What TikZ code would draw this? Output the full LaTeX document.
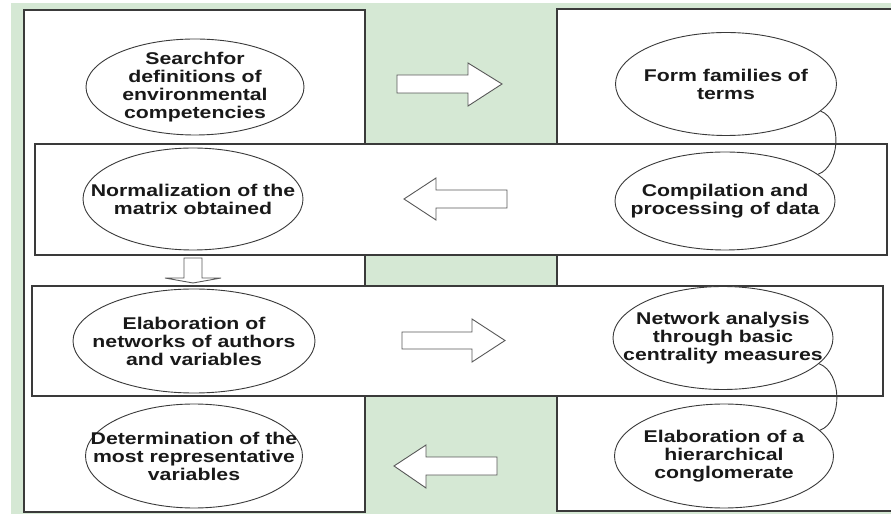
\documentclass[tikz,border=0pt]{standalone}
\usepackage{fontspec}
\newfontfamily\lblfont[FakeStretch=1.25]{Liberation Sans Bold}
\usetikzlibrary{shapes.geometric}
\definecolor{bggreen}{HTML}{D5E8D4}
\definecolor{linegray}{HTML}{3A3A3A}
\tikzset{
  panel/.style={draw=linegray, line width=1.3pt, fill=white},
  ell/.style={draw=linegray, line width=0.9pt, fill=white, ellipse, inner sep=0pt},
  txt/.style={font=\lblfont\fontsize{17}{18}\selectfont, align=center, inner sep=0pt, text=black!90},
  blockarrow/.style={draw=linegray!85, line width=0.9pt, fill=white, line join=miter},
  link/.style={draw=linegray, line width=0.9pt},
}
\begin{document}
\begin{tikzpicture}[x=1pt,y=1pt]
\useasboundingbox (0,0) rectangle (891,514);
\begin{scope}
\clip (0,0) rectangle (891,514);
% background
\fill[bggreen] (11,0) rectangle (891,511);
% columns
\draw[panel] (24,2) rectangle (365,504);
\draw[panel] (557,3) rectangle (900,505);
% bands
\draw[panel] (35,259) rectangle (887,370);
\draw[panel] (32,118) rectangle (883,228);
\end{scope}
% ellipses
\node[ell, minimum width=218pt, minimum height=96pt]  (e1) at (195,427) {};
\node[ell, minimum width=220pt, minimum height=102pt] (e2) at (193,315) {};
\node[ell, minimum width=221pt, minimum height=103pt] (e3) at (726,430) {};
\node[ell, minimum width=220pt, minimum height=98pt]  (e4) at (725,313) {};
\node[ell, minimum width=242pt, minimum height=104pt] (e5) at (194,173) {};
\node[ell, minimum width=217pt, minimum height=104pt] (e6) at (194,58) {};
\node[ell, minimum width=220pt, minimum height=103pt] (e7) at (723,176) {};
\node[ell, minimum width=219pt, minimum height=104pt] (e8) at (724,58) {};
% texts
\node[txt] (t1) at (e1) {Searchfor\\definitions of\\environmental\\competencies};
\node[txt] (t2) at (e2) {Normalization of the\\matrix obtained};
\node[txt] (t3) at (e3) {Form families of\\terms};
\node[txt] (t4) at (e4) {Compilation and\\processing of data};
\node[txt] (t5) at (e5) {Elaboration of\\networks of authors\\and variables};
\node[txt] (t6) at (e6) {Determination of the\\most representative\\variables};
\node[txt] (t7) at (e7) {Network analysis\\through basic\\centrality measures};
\node[txt] (t8) at (e8) {Elaboration of a\\hierarchical\\conglomerate};
% links between ellipses
\draw[link] (e3.-16) to[out=-20, in=20, looseness=0.95] (e4.16);
\draw[link] (e7.-15) to[out=-20, in=20, looseness=0.95] (e8.15);
% block arrows
\draw[blockarrow] (397,439) -- (468,439) -- (468,451) -- (502,430) -- (468,408) -- (468,421) -- (397,421) -- cycle;
\draw[blockarrow] (404,315) -- (436,336) -- (436,324) -- (507,324) -- (507,306) -- (436,306) -- (436,294) -- cycle;
\draw[blockarrow] (184,256) -- (202,256) -- (202,236) -- (221,236) -- (193,231) -- (165,236) -- (184,236) -- cycle;
\draw[blockarrow] (402,182) -- (472,182) -- (472,195) -- (505,173.5) -- (472,152) -- (472,165) -- (402,165) -- cycle;
\draw[blockarrow] (394,48) -- (426,69) -- (426,57) -- (497,57) -- (497,39) -- (426,39) -- (426,26) -- cycle;
\end{tikzpicture}
\end{document}
